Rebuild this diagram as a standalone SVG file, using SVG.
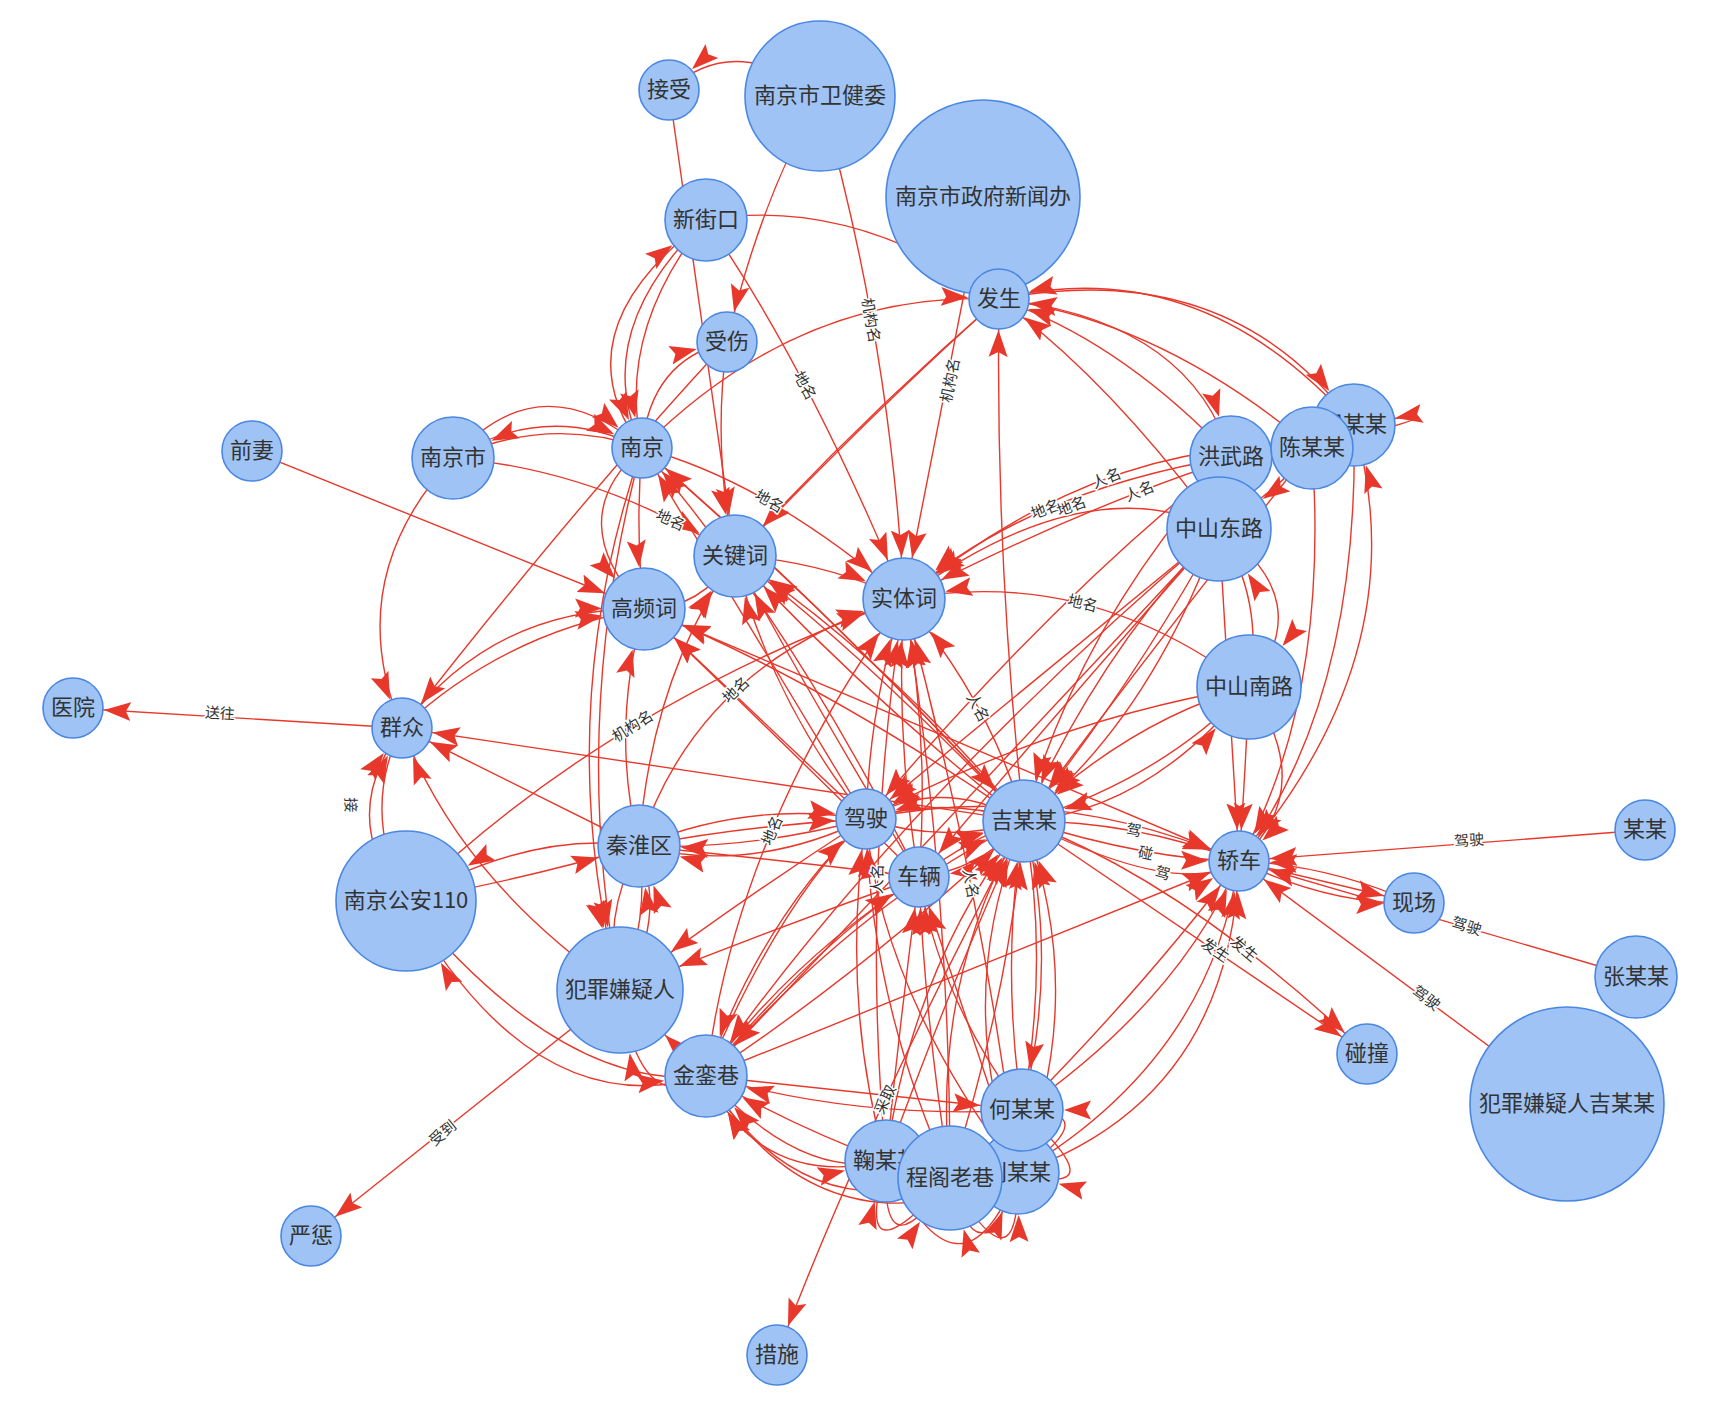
<svg xmlns="http://www.w3.org/2000/svg" width="1710" height="1422" viewBox="0 0 1710 1422">
<style>
.e path{fill:none;stroke:#e8382b;stroke-width:1.4}
.n circle{fill:#9fc3f5;stroke:#4a87e3;stroke-width:1.6}
.n text{font-family:"Noto Sans CJK SC","Noto Sans",sans-serif;font-size:22px;fill:#333;text-anchor:middle;dominant-baseline:central}
.el{font-family:"Noto Sans CJK SC","Noto Sans",sans-serif;font-size:15px;fill:#333;stroke:#fff;stroke-width:3;paint-order:stroke;text-anchor:middle;dominant-baseline:central}
</style>
<defs>
<marker id="a30" viewBox="0 -10 28 20" refX="58" refY="0" markerWidth="28" markerHeight="20" markerUnits="userSpaceOnUse" orient="auto"><path d="M0,-9.5 L27,0 L0,9.5 L5,0 Z" fill="#e8382b"/></marker>
<marker id="a41" viewBox="0 -10 28 20" refX="69" refY="0" markerWidth="28" markerHeight="20" markerUnits="userSpaceOnUse" orient="auto"><path d="M0,-9.5 L27,0 L0,9.5 L5,0 Z" fill="#e8382b"/></marker>
<marker id="a52" viewBox="0 -10 28 20" refX="80" refY="0" markerWidth="28" markerHeight="20" markerUnits="userSpaceOnUse" orient="auto"><path d="M0,-9.5 L27,0 L0,9.5 L5,0 Z" fill="#e8382b"/></marker>
<marker id="a63" viewBox="0 -10 28 20" refX="91" refY="0" markerWidth="28" markerHeight="20" markerUnits="userSpaceOnUse" orient="auto"><path d="M0,-9.5 L27,0 L0,9.5 L5,0 Z" fill="#e8382b"/></marker>
<marker id="a70" viewBox="0 -10 28 20" refX="98" refY="0" markerWidth="28" markerHeight="20" markerUnits="userSpaceOnUse" orient="auto"><path d="M0,-9.5 L27,0 L0,9.5 L5,0 Z" fill="#e8382b"/></marker>
</defs>
<rect width="1710" height="1422" fill="#fff"/>
<g id="connectors" class="e">
<path d="M820,96 Q735,30 669,90" marker-end="url(#a30)"/>
<path d="M669,90 L735,556" marker-end="url(#a41)"/>
<path d="M820,96 Q760,200 727,342" marker-end="url(#a30)"/>
<path d="M820,96 Q890,340 904,599" marker-end="url(#a41)"/>
<path d="M983,197 L904,599" marker-end="url(#a41)"/>
<path d="M706,220 Q850,195 999,299" marker-end="url(#a30)"/>
<path d="M706,220 Q807,365 904,599" marker-end="url(#a41)"/>
<path d="M642,448 Q556,332 706,220" marker-end="url(#a41)"/>
<path d="M706,220 Q588,332 642,448" marker-end="url(#a30)"/>
<path d="M706,220 Q616,332 642,448" marker-end="url(#a30)"/>
<path d="M642,448 Q650,360 727,342" marker-end="url(#a30)"/>
<path d="M727,342 Q580,500 402,728" marker-end="url(#a30)"/>
<path d="M727,342 Q712,450 735,556" marker-end="url(#a41)"/>
<path d="M642,448 Q800,290 999,299" marker-end="url(#a30)"/>
<path d="M453,458 Q540,360 642,448" marker-end="url(#a30)"/>
<path d="M453,458 Q545,400 642,448" marker-end="url(#a30)"/>
<path d="M642,448 Q548,415 453,458" marker-end="url(#a41)"/>
<path d="M453,458 Q340,580 402,728" marker-end="url(#a30)"/>
<path d="M453,458 Q600,470 735,556" marker-end="url(#a41)"/>
<path d="M252,451 L644,609" marker-end="url(#a41)"/>
<path d="M642,448 Q560,520 644,609" marker-end="url(#a41)"/>
<path d="M642,448 Q635,530 644,609" marker-end="url(#a41)"/>
<path d="M642,448 Q549,719 620,990" marker-end="url(#a63)"/>
<path d="M642,448 Q568,719 620,990" marker-end="url(#a63)"/>
<path d="M642,448 Q767,481 904,599" marker-end="url(#a41)"/>
<path d="M642,448 Q820,600 1024,821" marker-end="url(#a41)"/>
<path d="M1024,821 Q840,620 642,448" marker-end="url(#a30)"/>
<path d="M866,819 L642,448" marker-end="url(#a30)"/>
<path d="M919,877 Q790,620 642,448" marker-end="url(#a30)"/>
<path d="M402,728 L73,708" marker-end="url(#a30)"/>
<path d="M402,728 Q505,632 644,609" marker-end="url(#a41)"/>
<path d="M402,728 Q493,607 644,609" marker-end="url(#a41)"/>
<path d="M1024,821 L402,728" marker-end="url(#a30)"/>
<path d="M639,846 L402,728" marker-end="url(#a30)"/>
<path d="M620,990 Q460,880 402,728" marker-end="url(#a30)"/>
<path d="M406,901 Q335,820 402,728" marker-end="url(#a30)"/>
<path d="M406,901 Q360,810 402,728" marker-end="url(#a30)"/>
<path d="M406,901 Q609,704 904,599" marker-end="url(#a41)"/>
<path d="M639,846 Q530,830 406,901" marker-end="url(#a70)"/>
<path d="M406,901 Q520,880 639,846" marker-end="url(#a41)"/>
<path d="M706,1076 Q534,1128 406,901" marker-end="url(#a70)"/>
<path d="M406,901 Q564,1092 706,1076" marker-end="url(#a41)"/>
<path d="M620,990 L311,1236" marker-end="url(#a30)"/>
<path d="M706,1076 Q640,1120 620,990" marker-end="url(#a63)"/>
<path d="M706,1076 L620,990" marker-end="url(#a63)"/>
<path d="M866,819 Q740,900 620,990" marker-end="url(#a63)"/>
<path d="M919,877 Q770,930 620,990" marker-end="url(#a63)"/>
<path d="M999,299 Q860,420 735,556" marker-end="url(#a41)"/>
<path d="M999,299 Q885,400 735,556" marker-end="url(#a41)"/>
<path d="M644,609 Q700,610 735,556" marker-end="url(#a41)"/>
<path d="M639,846 Q650,680 735,556" marker-end="url(#a41)"/>
<path d="M866,819 Q770,700 735,556" marker-end="url(#a41)"/>
<path d="M1024,821 Q860,650 735,556" marker-end="url(#a41)"/>
<path d="M1024,821 Q890,660 735,556" marker-end="url(#a41)"/>
<path d="M1024,821 Q870,700 735,556" marker-end="url(#a41)"/>
<path d="M735,556 Q820,560 904,599" marker-end="url(#a41)"/>
<path d="M919,877 Q800,680 735,556" marker-end="url(#a41)"/>
<path d="M866,819 L644,609" marker-end="url(#a41)"/>
<path d="M919,877 Q760,720 644,609" marker-end="url(#a41)"/>
<path d="M639,846 Q610,730 644,609" marker-end="url(#a41)"/>
<path d="M1239,861 L644,609" marker-end="url(#a41)"/>
<path d="M1024,821 Q820,680 644,609" marker-end="url(#a41)"/>
<path d="M1231,457 Q1022,492 904,599" marker-end="url(#a41)"/>
<path d="M1219,529 Q1085,465 904,599" marker-end="url(#a41)"/>
<path d="M1312,448 Q1104,434 904,599" marker-end="url(#a41)"/>
<path d="M1354,425 Q1149,472 904,599" marker-end="url(#a41)"/>
<path d="M1249,687 Q1089,565 904,599" marker-end="url(#a41)"/>
<path d="M1024,821 Q994,708 904,599" marker-end="url(#a41)"/>
<path d="M639,846 Q698,660 904,599" marker-end="url(#a41)"/>
<path d="M706,1076 Q737,826 904,599" marker-end="url(#a41)"/>
<path d="M866,819 Q870,700 904,599" marker-end="url(#a41)"/>
<path d="M919,877 Q895,740 904,599" marker-end="url(#a41)"/>
<path d="M919,877 Q930,740 904,599" marker-end="url(#a41)"/>
<path d="M886,1161 Q860,880 904,599" marker-end="url(#a41)"/>
<path d="M950,1178 Q950,880 904,599" marker-end="url(#a41)"/>
<path d="M1018,1173 Q980,880 904,599" marker-end="url(#a41)"/>
<path d="M1354,425 Q1200,250 999,299" marker-end="url(#a30)"/>
<path d="M999,299 Q1230,255 1354,425" marker-end="url(#a41)"/>
<path d="M1312,448 Q1160,320 999,299" marker-end="url(#a30)"/>
<path d="M1231,457 Q1120,340 999,299" marker-end="url(#a30)"/>
<path d="M999,299 Q1190,320 1231,457" marker-end="url(#a41)"/>
<path d="M1219,529 Q1110,380 999,299" marker-end="url(#a30)"/>
<path d="M1024,821 Q995,560 999,299" marker-end="url(#a30)"/>
<path d="M1312,448 Q1500,400 1354,425" marker-end="url(#a41)"/>
<path d="M1312,448 Q1290,480 1219,529" marker-end="url(#a52)"/>
<path d="M1219,529 Q1320,600 1249,687" marker-end="url(#a52)"/>
<path d="M1249,687 Q1265,600 1219,529" marker-end="url(#a52)"/>
<path d="M1219,529 Q1230,700 1239,861" marker-end="url(#a30)"/>
<path d="M1312,448 Q1330,700 1239,861" marker-end="url(#a30)"/>
<path d="M1354,425 Q1360,700 1239,861" marker-end="url(#a30)"/>
<path d="M1239,861 Q1420,650 1354,425" marker-end="url(#a41)"/>
<path d="M1249,687 Q1320,790 1239,861" marker-end="url(#a30)"/>
<path d="M1249,687 Q1245,780 1239,861" marker-end="url(#a30)"/>
<path d="M1219,529 Q1100,650 1024,821" marker-end="url(#a41)"/>
<path d="M1219,529 Q1130,690 1024,821" marker-end="url(#a41)"/>
<path d="M1219,529 Q1150,720 1024,821" marker-end="url(#a41)"/>
<path d="M1231,457 Q1080,620 1024,821" marker-end="url(#a41)"/>
<path d="M1312,448 Q1150,650 1024,821" marker-end="url(#a41)"/>
<path d="M1249,687 Q1130,720 1024,821" marker-end="url(#a41)"/>
<path d="M1249,687 Q1160,780 1024,821" marker-end="url(#a41)"/>
<path d="M1024,821 Q1150,810 1249,687" marker-end="url(#a52)"/>
<path d="M1219,529 L866,819" marker-end="url(#a30)"/>
<path d="M1231,457 Q1050,600 866,819" marker-end="url(#a30)"/>
<path d="M1249,687 Q1050,720 866,819" marker-end="url(#a30)"/>
<path d="M1219,529 Q900,800 706,1076" marker-end="url(#a41)"/>
<path d="M1219,529 Q930,840 706,1076" marker-end="url(#a41)"/>
<path d="M1219,529 Q1050,720 919,877" marker-end="url(#a30)"/>
<path d="M1024,821 Q1136,821 1239,861" marker-end="url(#a30)"/>
<path d="M1024,821 Q1150,860 1239,861" marker-end="url(#a30)"/>
<path d="M1024,821 Q1180,900 1239,861" marker-end="url(#a30)"/>
<path d="M866,819 Q1050,780 1239,861" marker-end="url(#a30)"/>
<path d="M1645,830 L1239,861" marker-end="url(#a30)"/>
<path d="M1636,977 L1239,861" marker-end="url(#a30)"/>
<path d="M1567,1104 L1239,861" marker-end="url(#a30)"/>
<path d="M1239,861 L1414,903" marker-end="url(#a30)"/>
<path d="M1239,861 Q1330,905 1414,903" marker-end="url(#a30)"/>
<path d="M1414,903 Q1330,865 1239,861" marker-end="url(#a30)"/>
<path d="M1022,1110 Q1180,1000 1239,861" marker-end="url(#a30)"/>
<path d="M1022,1110 Q1150,980 1239,861" marker-end="url(#a30)"/>
<path d="M1018,1173 Q1210,1060 1239,861" marker-end="url(#a30)"/>
<path d="M1018,1173 Q1230,1100 1239,861" marker-end="url(#a30)"/>
<path d="M1024,821 L1367,1054" marker-end="url(#a30)"/>
<path d="M1024,821 Q1190,885 1367,1054" marker-end="url(#a30)"/>
<path d="M706,1076 L1239,861" marker-end="url(#a30)"/>
<path d="M1024,821 Q868,1114 777,1355" marker-end="url(#a30)"/>
<path d="M1022,1110 Q1000,960 1024,821" marker-end="url(#a41)"/>
<path d="M1022,1110 Q1060,960 1024,821" marker-end="url(#a41)"/>
<path d="M1018,1173 Q950,1000 1024,821" marker-end="url(#a41)"/>
<path d="M1018,1173 Q1090,1000 1024,821" marker-end="url(#a41)"/>
<path d="M950,1178 Q930,980 1024,821" marker-end="url(#a41)"/>
<path d="M950,1178 Q1010,990 1024,821" marker-end="url(#a41)"/>
<path d="M886,1161 Q910,970 1024,821" marker-end="url(#a41)"/>
<path d="M886,1161 Q960,960 1024,821" marker-end="url(#a41)"/>
<path d="M706,1076 Q860,900 1024,821" marker-end="url(#a41)"/>
<path d="M706,1076 Q880,960 1024,821" marker-end="url(#a41)"/>
<path d="M1024,821 Q1050,960 1022,1110" marker-end="url(#a41)"/>
<path d="M886,1161 Q840,1000 866,819" marker-end="url(#a30)"/>
<path d="M950,1178 Q870,1000 866,819" marker-end="url(#a30)"/>
<path d="M1018,1173 Q880,990 866,819" marker-end="url(#a30)"/>
<path d="M886,1161 Q900,1020 919,877" marker-end="url(#a30)"/>
<path d="M950,1178 Q925,1020 919,877" marker-end="url(#a30)"/>
<path d="M1018,1173 Q960,1000 919,877" marker-end="url(#a30)"/>
<path d="M1022,1110 Q940,1000 919,877" marker-end="url(#a30)"/>
<path d="M706,1076 Q780,900 866,819" marker-end="url(#a30)"/>
<path d="M706,1076 Q820,940 919,877" marker-end="url(#a30)"/>
<path d="M866,819 Q760,920 706,1076" marker-end="url(#a41)"/>
<path d="M919,877 Q790,960 706,1076" marker-end="url(#a41)"/>
<path d="M886,1161 Q800,1180 706,1076" marker-end="url(#a41)"/>
<path d="M886,1161 Q790,1125 706,1076" marker-end="url(#a41)"/>
<path d="M950,1178 Q800,1230 706,1076" marker-end="url(#a41)"/>
<path d="M1018,1173 Q820,1265 706,1076" marker-end="url(#a41)"/>
<path d="M1022,1110 Q860,1120 706,1076" marker-end="url(#a41)"/>
<path d="M706,1076 Q760,1190 886,1161" marker-end="url(#a41)"/>
<path d="M706,1076 L1022,1110" marker-end="url(#a41)"/>
<path d="M886,1161 Q880,1280 950,1178" marker-end="url(#a52)"/>
<path d="M950,1178 Q850,1290 886,1161" marker-end="url(#a41)"/>
<path d="M886,1161 Q960,1320 1018,1173" marker-end="url(#a41)"/>
<path d="M950,1178 Q1020,1300 1018,1173" marker-end="url(#a41)"/>
<path d="M1018,1173 Q980,1290 950,1178" marker-end="url(#a52)"/>
<path d="M1022,1110 Q1120,1200 1018,1173" marker-end="url(#a41)"/>
<path d="M1018,1173 Q1110,1110 1022,1110" marker-end="url(#a41)"/>
<path d="M639,846 Q750,800 866,819" marker-end="url(#a30)"/>
<path d="M639,846 Q750,825 866,819" marker-end="url(#a30)"/>
<path d="M866,819 Q750,850 639,846" marker-end="url(#a41)"/>
<path d="M866,819 Q750,875 639,846" marker-end="url(#a41)"/>
<path d="M639,846 Q600,920 620,990" marker-end="url(#a63)"/>
<path d="M620,990 Q650,920 639,846" marker-end="url(#a41)"/>
<path d="M620,990 Q668,925 639,846" marker-end="url(#a41)"/>
<path d="M1024,821 Q945,795 866,819" marker-end="url(#a30)"/>
<path d="M866,819 Q945,845 1024,821" marker-end="url(#a41)"/>
<path d="M1024,821 Q940,775 866,819" marker-end="url(#a30)"/>
<path d="M919,877 Q975,835 1024,821" marker-end="url(#a41)"/>
<path d="M1024,821 Q980,870 919,877" marker-end="url(#a30)"/>
<path d="M639,846 Q780,860 919,877" marker-end="url(#a30)"/>
<g id="edge-labels">
<text class="el" transform="translate(872,320) rotate(80)">机构名</text>
<text class="el" transform="translate(949,380) rotate(-79)">机构名</text>
<text class="el" transform="translate(806,385) rotate(62)">地名</text>
<text class="el" transform="translate(671,519) rotate(24)">地名</text>
<text class="el" transform="translate(770,500) rotate(30)">地名</text>
<text class="el" transform="translate(220,712) rotate(3.5)">送往</text>
<text class="el" transform="translate(352,805) rotate(89)">接</text>
<text class="el" transform="translate(632,725) rotate(-32)">机构名</text>
<text class="el" transform="translate(442,1132) rotate(-39)">受到</text>
<text class="el" transform="translate(1045,508) rotate(-20)">地名</text>
<text class="el" transform="translate(1071,505) rotate(-20)">地名</text>
<text class="el" transform="translate(1106,477) rotate(-22)">人名</text>
<text class="el" transform="translate(1139,490) rotate(-22)">人名</text>
<text class="el" transform="translate(1083,602) rotate(14)">地名</text>
<text class="el" transform="translate(979,707) rotate(62)">人名</text>
<text class="el" transform="translate(735,689) rotate(-43)">地名</text>
<text class="el" transform="translate(771,830) rotate(-67)">地名</text>
<text class="el" transform="translate(876,879) rotate(-88)">人名</text>
<text class="el" transform="translate(972,883) rotate(79)">人名</text>
<text class="el" transform="translate(1134,829) rotate(10)">驾</text>
<text class="el" transform="translate(1146,852) rotate(12)">碰</text>
<text class="el" transform="translate(1163,872) rotate(15)">驾</text>
<text class="el" transform="translate(1469,839) rotate(-4.4)">驾驶</text>
<text class="el" transform="translate(1467,925) rotate(16)">驾驶</text>
<text class="el" transform="translate(1427,997) rotate(36.5)">驾驶</text>
<text class="el" transform="translate(1216,949) rotate(34)">发生</text>
<text class="el" transform="translate(1245,948) rotate(40)">发生</text>
<text class="el" transform="translate(884,1099) rotate(-65)">采取</text>
</g>
</g>
<g id="nodes" class="n">
<g id="n-jieshou"><circle cx="669" cy="90" r="30"/><text x="669" y="87">接受</text></g>
<g id="n-weijianwei"><circle cx="820" cy="96" r="75"/><text x="820" y="93">南京市卫健委</text></g>
<g id="n-xinwenban"><circle cx="983" cy="197" r="97"/><text x="983" y="194">南京市政府新闻办</text></g>
<g id="n-fasheng"><circle cx="999" cy="299" r="30"/><text x="999" y="296">发生</text></g>
<g id="n-xinjiekou"><circle cx="706" cy="220" r="41"/><text x="706" y="217">新街口</text></g>
<g id="n-shoushang"><circle cx="727" cy="342" r="30"/><text x="727" y="339">受伤</text></g>
<g id="n-nanjing"><circle cx="642" cy="448" r="30"/><text x="642" y="445">南京</text></g>
<g id="n-nanjingshi"><circle cx="453" cy="458" r="41"/><text x="453" y="455">南京市</text></g>
<g id="n-qianqi"><circle cx="252" cy="451" r="30"/><text x="252" y="448">前妻</text></g>
<g id="n-hongwulu"><circle cx="1231" cy="457" r="41"/><text x="1231" y="454">洪武路</text></g>
<g id="n-zhoumoumou"><circle cx="1354" cy="425" r="41"/><text x="1354" y="422">周某某</text></g>
<g id="n-chenmoumou"><circle cx="1312" cy="448" r="41"/><text x="1312" y="445">陈某某</text></g>
<g id="n-zhongshandonglu"><circle cx="1219" cy="529" r="52"/><text x="1219" y="526">中山东路</text></g>
<g id="n-shitici"><circle cx="904" cy="599" r="41"/><text x="904" y="596">实体词</text></g>
<g id="n-zhongshannanlu"><circle cx="1249" cy="687" r="52"/><text x="1249" y="684">中山南路</text></g>
<g id="n-jimoumou"><circle cx="1024" cy="821" r="41"/><text x="1024" y="818">吉某某</text></g>
<g id="n-jiashi"><circle cx="866" cy="819" r="30"/><text x="866" y="816">驾驶</text></g>
<g id="n-cheliang"><circle cx="919" cy="877" r="30"/><text x="919" y="874">车辆</text></g>
<g id="n-jiaoche"><circle cx="1239" cy="861" r="30"/><text x="1239" y="858">轿车</text></g>
<g id="n-guanjianci"><circle cx="735" cy="556" r="41"/><text x="735" y="553">关键词</text></g>
<g id="n-gaopinci"><circle cx="644" cy="609" r="41"/><text x="644" y="606">高频词</text></g>
<g id="n-qinhuaiqu"><circle cx="639" cy="846" r="41"/><text x="639" y="843">秦淮区</text></g>
<g id="n-qunzhong"><circle cx="402" cy="728" r="30"/><text x="402" y="725">群众</text></g>
<g id="n-yiyuan"><circle cx="73" cy="708" r="30"/><text x="73" y="705">医院</text></g>
<g id="n-gongan110"><circle cx="406" cy="901" r="70"/><text x="406" y="898">南京公安110</text></g>
<g id="n-xianyiren"><circle cx="620" cy="990" r="63"/><text x="620" y="987">犯罪嫌疑人</text></g>
<g id="n-jinluanxiang"><circle cx="706" cy="1076" r="41"/><text x="706" y="1073">金銮巷</text></g>
<g id="n-cuoshi"><circle cx="777" cy="1355" r="30"/><text x="777" y="1352">措施</text></g>
<g id="n-yancheng"><circle cx="311" cy="1236" r="30"/><text x="311" y="1233">严惩</text></g>
<g id="n-jumoumou"><circle cx="886" cy="1161" r="41"/><text x="886" y="1158">鞠某某</text></g>
<g id="n-liumoumou"><circle cx="1018" cy="1173" r="41"/><text x="1018" y="1170">刘某某</text></g>
<g id="n-hemoumou"><circle cx="1022" cy="1110" r="41"/><text x="1022" y="1107">何某某</text></g>
<g id="n-chenggelaoxiang"><circle cx="950" cy="1178" r="52"/><text x="950" y="1175">程阁老巷</text></g>
<g id="n-xianchang"><circle cx="1414" cy="903" r="30"/><text x="1414" y="900">现场</text></g>
<g id="n-moumou"><circle cx="1645" cy="830" r="30"/><text x="1645" y="827">某某</text></g>
<g id="n-zhangmoumou"><circle cx="1636" cy="977" r="41"/><text x="1636" y="974">张某某</text></g>
<g id="n-xianyirenji"><circle cx="1567" cy="1104" r="97"/><text x="1567" y="1101">犯罪嫌疑人吉某某</text></g>
<g id="n-pengzhuang"><circle cx="1367" cy="1054" r="30"/><text x="1367" y="1051">碰撞</text></g>
</g>
</svg>
